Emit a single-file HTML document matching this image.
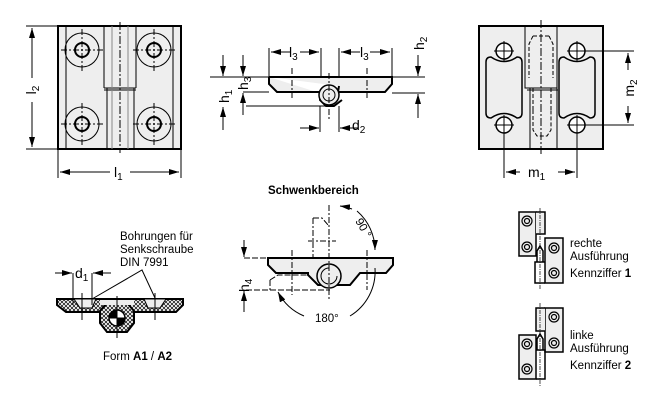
<!DOCTYPE html>
<html><head><meta charset="utf-8"><style>
html,body{margin:0;padding:0;background:#fff}
svg{display:block}
text{font-family:"Liberation Sans",sans-serif;fill:#000}
</style></head><body>
<svg width="658" height="403" viewBox="0 0 658 403" xmlns="http://www.w3.org/2000/svg">
<defs>
<marker id="a" viewBox="0 0 10 6" refX="10" refY="3" markerWidth="10" markerHeight="6" orient="auto-start-reverse" markerUnits="userSpaceOnUse"><path d="M0,0L10,3L0,6z"/></marker>
<pattern id="h" width="4" height="4" patternUnits="userSpaceOnUse"><rect width="4" height="4" fill="#fff"/><path d="M0,0L4,4M4,0L0,4" stroke="#000" stroke-width="0.7"/></pattern>
</defs>
<g stroke="#000" fill="none" stroke-width="1">
<!-- Top-left hinge -->
<rect x="58" y="26" width="123" height="123" fill="#eee" stroke-width="2"/>
<path d="M66 26V149M173 26V149M104 26V88M136 26V88M104 88H136M107 88V149M134 88V149M104 90H136"/>
<path d="M112 26V88M128 26V88M112 90V149M128 90V149" stroke="#888"/>
<path d="M120 22V153" stroke-dasharray="8 2 2 2"/>
<g>
<circle cx="82" cy="50" r="17"/><circle cx="82" cy="50" r="7" stroke-width="2"/>
<circle cx="154" cy="50" r="17"/><circle cx="154" cy="50" r="7" stroke-width="2"/>
<circle cx="82" cy="124" r="17"/><circle cx="82" cy="124" r="7" stroke-width="2"/>
<circle cx="154" cy="124" r="17"/><circle cx="154" cy="124" r="7" stroke-width="2"/>
</g>
<path d="M61 50H103M82 29V71M133 50H176M154 29V71M61 124H103M82 103V146M133 124H176M154 103V146" stroke-dasharray="6 2 2 2"/>
<path d="M26 26H58M26 149H58M58 149V178M181 149V178"/>
<path d="M32 78V28" marker-end="url(#a)"/><path d="M32 102V147" marker-end="url(#a)"/>
<path d="M110 172H60" marker-end="url(#a)"/><path d="M130 172H179" marker-end="url(#a)"/>

<!-- top side view -->
<path d="M269 77V84L277 92H320V100L326 106H334L342 100M339 86L338 92H385L392 84V77H269" fill="#eee" stroke-width="2"/>
<circle cx="329" cy="95" r="10" fill="#eee" stroke-width="1.5"/>
<circle cx="329" cy="95" r="6"/>
<path d="M210 77H269M392 77H425M392 93H425M243 92H269M246 106H326" />
<path d="M292 68V100M367 68V100M329 73V120" stroke-dasharray="6 2 2 2"/>
<path d="M269 48V77M321 48V77M339 48V77M392 48V77"/>
<path d="M290 52H271" marker-end="url(#a)"/><path d="M300 52H319" marker-end="url(#a)"/>
<path d="M360 52H341" marker-end="url(#a)"/><path d="M370 52H390" marker-end="url(#a)"/>
<path d="M223 55V76" marker-end="url(#a)"/><path d="M223 130V107" marker-end="url(#a)"/>
<path d="M243 55V76" marker-end="url(#a)"/><path d="M243 115V93" marker-end="url(#a)"/>
<path d="M418 55V76" marker-end="url(#a)"/><path d="M418 118V94" marker-end="url(#a)"/>
<path d="M320 106V132M339 106V132"/>
<path d="M300 128H319" marker-end="url(#a)"/><path d="M358 128H340" marker-end="url(#a)"/>

<!-- top-right hinge -->
<rect x="479" y="26" width="124" height="123" fill="#eee" stroke-width="2"/>
<path d="M525 26V88H557V26M530 88V149M557 88V149M527 90H558"/>
<path d="M533 36L529 44V78M549 36L553 44V78M533 36H549M533 110V130L537 136H547L551 130V110M533 88V110M551 88V110" stroke-dasharray="4 2"/>
<path d="M541 20V155" stroke-dasharray="8 2 2 2"/>
<path d="M486 62Q486 57 491 57Q504 66 517 57Q522 57 522 62V113Q522 118 517 118Q504 109 491 118Q486 118 486 113Z" stroke-width="1.5"/>
<path d="M559 62Q559 57 564 57Q577 66 590 57Q595 57 595 62V113Q595 118 590 118Q577 109 564 118Q559 118 559 113Z" stroke-width="1.5"/>
<circle cx="504" cy="51" r="8" fill="#fff" stroke-width="1.5"/><circle cx="577" cy="51" r="8" fill="#fff" stroke-width="1.5"/>
<circle cx="504" cy="125" r="8" fill="#fff" stroke-width="1.5"/><circle cx="577" cy="125" r="8" fill="#fff" stroke-width="1.5"/>
<path d="M494 51H514M504 41V61M567 51H634M577 41V61M494 125H514M504 115V178M567 125H634M577 115V178"/>
<path d="M628 70V53" marker-end="url(#a)"/><path d="M628 106V123" marker-end="url(#a)"/>
<path d="M520 172H506" marker-end="url(#a)"/><path d="M558 172H575" marker-end="url(#a)"/>

<!-- bottom-left section -->
<path d="M57 299H183V305L176 312H66L57 305Z" fill="url(#h)" stroke-width="2"/>
<path d="M106 304L128 304L134 311V323L127 332H107L100 323V311Z" fill="url(#h)" stroke-width="2"/>
<path d="M74 299H96L92 308H80Z M144 299H166L160 308H148Z" fill="#eee"/>
<rect x="100" y="300" width="34" height="5" fill="#eee" stroke="none"/>
<circle cx="117" cy="318" r="8" fill="#fff" stroke-width="1.5"/>
<path d="M117 318L109 318A8 8 0 0 1 117 310Z" fill="#000"/>
<path d="M117 318L125 318A8 8 0 0 1 117 326Z" fill="#000"/>
<path d="M82 293V320M155 293V320M117 296V338M73 273V305M92 273V305"/>
<path d="M55 273H72" marker-end="url(#a)"/><path d="M111 273H93" marker-end="url(#a)"/>
<path d="M92 299L142 270L155 298"/>

<!-- Schwenkbereich -->
<path d="M268 258H393V265L386 273H360L350 285H318L308 275V273H276L268 265Z" fill="#eee" stroke-width="2"/>
<circle cx="329" cy="276" r="12" fill="#eee" stroke-width="1.5"/>
<path d="M329 268A8 8 0 1 0 337 276" />
<path d="M244 258H268M246 290H330M270 280L278 275H308M270 280V290" stroke-dasharray="6 2"/>
<path d="M313 218V258M313 218H322L329 226" stroke-dasharray="6 2 2 2"/>
<path d="M329 205V300M292 250V295M367 250V290M308 241H336" stroke-dasharray="6 2 2 2"/>
<path d="M244 240V257" marker-end="url(#a)"/><path d="M244 312V291" marker-end="url(#a)"/>
<path d="M357 211A52 52 0 0 1 375 250" marker-end="url(#a)"/>
<path d="M340 206A52 52 0 0 1 352 209" marker-start="url(#a)"/>
<path d="M304 316A52 52 0 0 1 278 292" marker-end="url(#a)"/>
<path d="M350 316A52 52 0 0 0 375 268"/>

<!-- icon 1 -->
<g stroke-width="1.5">
<rect x="519" y="212" width="17" height="44" fill="#eee"/>
<path d="M536 212H545V234H536" fill="#eee"/>
<rect x="545" y="238" width="18" height="45" fill="#eee"/>
<path d="M545 262H535V283H545"/>
</g>
<path d="M537 262V251L540 246L543 251V262" stroke-width="1.5"/>
<path d="M540 208V290" stroke-dasharray="4 1 1 1" stroke-width="0.7"/>
<g stroke-width="1.2"><circle cx="527" cy="221" r="5"/><circle cx="527" cy="221" r="2.5"/><circle cx="527" cy="247" r="5"/><circle cx="527" cy="247" r="2.5"/><circle cx="554" cy="248" r="5"/><circle cx="554" cy="248" r="2.5"/><circle cx="554" cy="273" r="5"/><circle cx="554" cy="273" r="2.5"/></g>
<!-- icon 2 -->
<g stroke-width="1.5">
<rect x="545" y="308" width="18" height="44" fill="#eee"/>
<path d="M545 308H536V331H545" fill="#eee"/>
<rect x="519" y="335" width="17" height="44" fill="#eee"/>
<path d="M536 350H545V379H536"/>
</g>
<path d="M537 350V339L540 334L543 339V350" stroke-width="1.5"/>
<path d="M540 303V386" stroke-dasharray="4 1 1 1" stroke-width="0.7"/>
<g stroke-width="1.2"><circle cx="554" cy="317" r="5"/><circle cx="554" cy="317" r="2.5"/><circle cx="554" cy="343" r="5"/><circle cx="554" cy="343" r="2.5"/><circle cx="527" cy="344" r="5"/><circle cx="527" cy="344" r="2.5"/><circle cx="527" cy="369" r="5"/><circle cx="527" cy="369" r="2.5"/></g>
</g>
<g font-size="14">
<text x="29" y="97" transform="rotate(-90 29 90)" text-anchor="middle">l<tspan font-size="10" dy="3">2</tspan></text>
<text x="114" y="177">l<tspan font-size="10" dy="3">1</tspan></text>
<text x="289" y="57">l<tspan font-size="10" dy="3">3</tspan></text>
<text x="360" y="57">l<tspan font-size="10" dy="3">3</tspan></text>
<text transform="translate(229 103) rotate(-90)">h<tspan font-size="10" dy="3">1</tspan></text>
<text transform="translate(248 90) rotate(-90)">h<tspan font-size="10" dy="3">3</tspan></text>
<text transform="translate(424 50) rotate(-90)">h<tspan font-size="10" dy="3">2</tspan></text>
<text x="352" y="130">d<tspan font-size="10" dy="3">2</tspan></text>
<text transform="translate(634 88) rotate(-90)" text-anchor="middle">m<tspan font-size="10" dy="3">2</tspan></text>
<text x="528" y="177">m<tspan font-size="10" dy="3">1</tspan></text>
<text x="75" y="278">d<tspan font-size="10" dy="3">1</tspan></text>
<text transform="translate(249 292) rotate(-90)">h<tspan font-size="10" dy="3">4</tspan></text>
</g>
<g font-size="11.5">
<text x="120" y="240">Bohrungen für</text>
<text x="120" y="253">Senkschraube</text>
<text x="120" y="266">DIN 7991</text>
<text x="103" y="360">Form <tspan font-weight="bold">A1</tspan> / <tspan font-weight="bold">A2</tspan></text>
<text x="268" y="194" font-weight="bold">Schwenkbereich</text>
<text x="315" y="322">180°</text>
<text transform="translate(355 221) rotate(60)">90 °</text>
<text x="570" y="247">rechte</text>
<text x="570" y="260">Ausführung</text>
<text x="570" y="277">Kennziffer <tspan font-weight="bold">1</tspan></text>
<text x="570" y="339">linke</text>
<text x="570" y="352">Ausführung</text>
<text x="570" y="369">Kennziffer <tspan font-weight="bold">2</tspan></text>
</g>
</svg>
</body></html>
